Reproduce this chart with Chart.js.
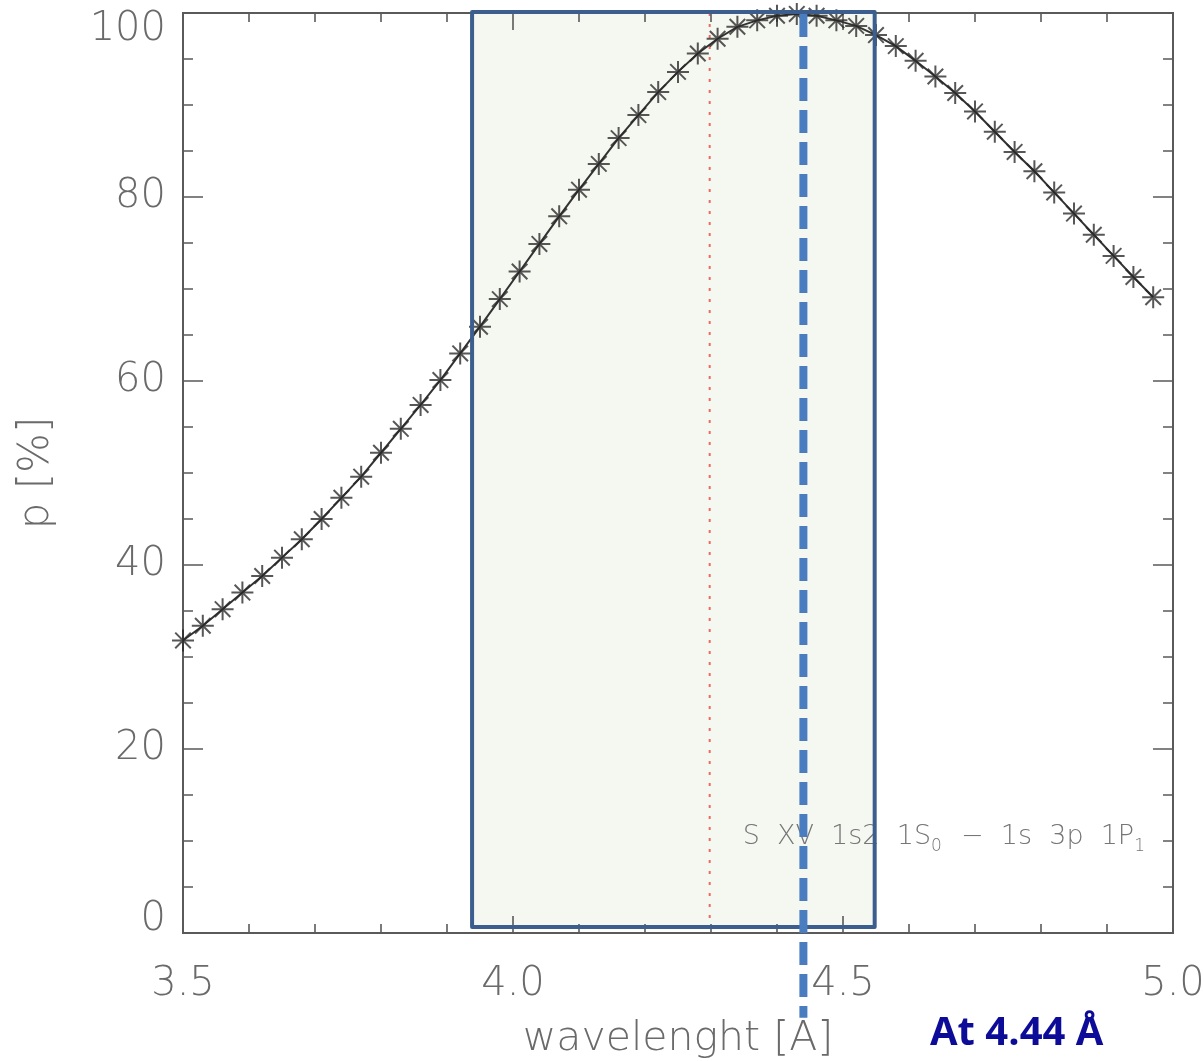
<!DOCTYPE html>
<html>
<head>
<meta charset="utf-8">
<script src="https://cdn.jsdelivr.net/npm/chart.js@4/dist/chart.umd.min.js"></script>
<style>
  html, body { margin: 0; padding: 0; background: #ffffff; }
  #wrap { width: 1204px; height: 1061px; }
</style>
</head>
<body>
<div id="wrap"><canvas id="c" width="1204" height="1061"></canvas></div>
<script>
// ---- data ----
const wavelength = [3.50, 3.53, 3.56, 3.59, 3.62, 3.65, 3.68, 3.71, 3.74, 3.77,
                    3.80, 3.83, 3.86, 3.89, 3.92, 3.95, 3.98, 4.01, 4.04, 4.07,
                    4.10, 4.13, 4.16, 4.19, 4.22, 4.25, 4.28, 4.31, 4.34, 4.37,
                    4.40, 4.43, 4.46, 4.49, 4.52, 4.55, 4.58, 4.61, 4.64, 4.67,
                    4.70, 4.73, 4.76, 4.79, 4.82, 4.85, 4.88, 4.91, 4.94, 4.97];
const pPercent   = [31.8, 33.4, 35.2, 37.0, 38.8, 40.8, 42.8, 45.0, 47.3, 49.6,
                    52.2, 54.8, 57.4, 60.1, 63.0, 65.9, 68.9, 71.9, 74.9, 77.9,
                    80.8, 83.6, 86.4, 88.9, 91.4, 93.6, 95.6, 97.2, 98.5, 99.2,
                    99.7, 99.9, 99.7, 99.2, 98.6, 97.6, 96.4, 94.8, 93.1, 91.3,
                    89.3, 87.1, 84.9, 82.8, 80.5, 78.2, 75.9, 73.6, 71.3, 69.1];
const xMajorLabels = ['3.5', '4.0', '4.5', '5.0'];
const yMajorLabels = ['0', '20', '40', '60', '80', '100'];
const bandWavelength = [3.938, 4.548];   // highlighted band
const bandP = [0.65, 100.1];
const lineCentre = 4.298;                // red dotted line
const markWavelength = 4.44;             // blue dashed line
const markLabel = 'At 4.44 Å';
const lineLabelParts = [['S  XV  1s2  1S', false], ['0', true], ['  −  1s  3p  1P', false], ['1', true]];

const points = wavelength.map((w, i) => ({ x: w, y: pPercent[i] }));

const GRAY = '#6a6a6a';
const AXIS = '#5a5a5a';
const LABEL_FONT = '200 40px "DejaVu Sans", "Liberation Sans", sans-serif';

const overlay = {
  id: 'overlay',
  beforeDatasetsDraw(chart) {
    const { ctx, chartArea: a, scales: { x, y } } = chart;
    ctx.save();
    // band fill
    const bx0 = x.getPixelForValue(bandWavelength[0]), bx1 = x.getPixelForValue(bandWavelength[1]);
    const by0 = y.getPixelForValue(bandP[1]), by1 = y.getPixelForValue(bandP[0]);
    ctx.fillStyle = '#f5f8f1';
    ctx.fillRect(bx0, by0, bx1 - bx0, by1 - by0);
    // red dotted line
    const rx = x.getPixelForValue(lineCentre);
    ctx.strokeStyle = '#ec6b60';
    ctx.lineWidth = 2;
    ctx.setLineDash([3, 8]);
    ctx.beginPath(); ctx.moveTo(rx, a.top); ctx.lineTo(rx, a.bottom); ctx.stroke();
    ctx.setLineDash([]);
    // frame
    ctx.strokeStyle = AXIS;
    ctx.lineWidth = 2;
    ctx.strokeRect(a.left, a.top, a.right - a.left, a.bottom - a.top);
    // ticks (inward, mirrored)
    ctx.lineWidth = 1.6;
    x.ticks.forEach(t => {
      const px = x.getPixelForValue(t.value);
      const len = t.label ? 17 : 9;
      ctx.beginPath();
      ctx.moveTo(px, a.bottom); ctx.lineTo(px, a.bottom - len);
      ctx.moveTo(px, a.top); ctx.lineTo(px, a.top + len);
      ctx.stroke();
    });
    y.ticks.forEach(t => {
      const py = y.getPixelForValue(t.value);
      const len = t.label ? 20 : 10;
      ctx.beginPath();
      ctx.moveTo(a.left, py); ctx.lineTo(a.left + len, py);
      ctx.moveTo(a.right, py); ctx.lineTo(a.right - len, py);
      ctx.stroke();
    });
    ctx.restore();
  },
  afterDatasetsDraw(chart) {
    const { ctx, chartArea: a, scales: { x, y } } = chart;
    ctx.save();
    // line identification text
    let tx = x.getPixelForValue(4.348);
    const ty = y.getPixelForValue(9.7);
    ctx.fillStyle = '#767676';
    ctx.textBaseline = 'alphabetic';
    ctx.textAlign = 'left';
    lineLabelParts.forEach(([s, sub]) => {
      ctx.font = sub ? '300 17px "DejaVu Sans", sans-serif' : '300 27px "DejaVu Sans", sans-serif';
      ctx.fillText(s, tx, ty + (sub ? 7 : 0));
      tx += ctx.measureText(s).width + (sub ? 2 : 0);
    });
    // band border
    const bx0 = x.getPixelForValue(bandWavelength[0]), bx1 = x.getPixelForValue(bandWavelength[1]);
    const by0 = y.getPixelForValue(bandP[1]), by1 = y.getPixelForValue(bandP[0]);
    ctx.strokeStyle = '#3b5e8e';
    ctx.lineWidth = 4;
    ctx.lineJoin = 'round';
    ctx.strokeRect(bx0, by0, bx1 - bx0, by1 - by0);
    // blue dashed marker
    const mx = x.getPixelForValue(markWavelength);
    ctx.strokeStyle = '#4a7dc0';
    ctx.lineWidth = 8;
    ctx.setLineDash([23, 9]);
    ctx.beginPath();
    ctx.moveTo(mx, a.top + 1);
    ctx.lineTo(mx, y.getPixelForValue(-9.2));
    ctx.stroke();
    ctx.restore();
  },
  afterDraw(chart) {
    const { ctx, chartArea: a, scales: { x, y } } = chart;
    ctx.save();
    // y tick labels, kept inside the frame like the original
    ctx.font = LABEL_FONT;
    ctx.fillStyle = GRAY;
    ctx.textAlign = 'right';
    ctx.textBaseline = 'middle';
    y.ticks.forEach(t => {
      if (!t.label) return;
      let py = y.getPixelForValue(t.value);
      py = Math.min(Math.max(py, a.top + 17), a.bottom - 13);
      ctx.fillText(t.label, a.left - 17, py);
    });
    // annotation
    ctx.font = 'bold 40px "Liberation Sans Narrow", "Open Sans", sans-serif';
    ctx.fillStyle = '#0c0c98';
    ctx.textAlign = 'left';
    ctx.textBaseline = 'alphabetic';
    ctx.fillText(markLabel, 930, 1045);
    ctx.restore();
  }
};

new Chart(document.getElementById('c'), {
  type: 'line',
  data: {
    datasets: [{
      data: points,
      borderColor: '#333333',
      borderWidth: 2,
      pointStyle: 'star',
      pointRadius: 11,
      pointBorderWidth: 2,
      pointBorderColor: 'rgba(40,40,40,0.78)',
      pointBackgroundColor: 'rgba(40,40,40,0.78)',
      tension: 0,
      clip: false
    }]
  },
  options: {
    responsive: false,
    animation: false,
    devicePixelRatio: 1,
    layout: { padding: { left: 0, right: 31, top: 11, bottom: 0 } },
    plugins: { legend: { display: false }, tooltip: { enabled: false } },
    scales: {
      x: {
        type: 'linear',
        min: 3.5, max: 5.0,
        grid: { display: false, drawTicks: false },
        border: { display: false },
        ticks: {
          stepSize: 0.1,
          autoSkip: false,
          maxRotation: 0,
          padding: 28,
          color: GRAY,
          font: { family: '"DejaVu Sans", "Liberation Sans", sans-serif', size: 40, weight: 200 },
          callback: (v) => {
            const s = Number(v).toFixed(1);
            return xMajorLabels.includes(s) && Math.abs(v * 2 - Math.round(v * 2)) < 1e-6 ? s : '';
          }
        },
        title: {
          display: true,
          text: 'wavelenght [A]',
          color: GRAY,
          font: { family: '"DejaVu Sans", "Liberation Sans", sans-serif', size: 41, weight: 200, lineHeight: 1 },
          padding: { top: 0, bottom: 1 }
        },
        afterFit(s) { s.height = 128; s.paddingLeft = 0; s.paddingRight = 0; }
      },
      y: {
        min: 0, max: 100,
        grid: { display: false, drawTicks: false },
        border: { display: false },
        ticks: {
          stepSize: 5,
          display: false,
          callback: (v) => {
            const s = String(Math.round(v));
            return v % 20 === 0 && yMajorLabels.includes(s) ? s : '';
          }
        },
        title: {
          display: true,
          text: 'p [%]',
          color: GRAY,
          font: { family: '"DejaVu Sans", "Liberation Sans", sans-serif', size: 42, weight: 200, lineHeight: 1 },
          padding: { top: 16, bottom: 0 }
        },
        afterFit(s) { s.width = 183; s.paddingTop = 0; s.paddingBottom = 0; }
      }
    }
  },
  plugins: [overlay]
});
</script>
</body>
</html>
